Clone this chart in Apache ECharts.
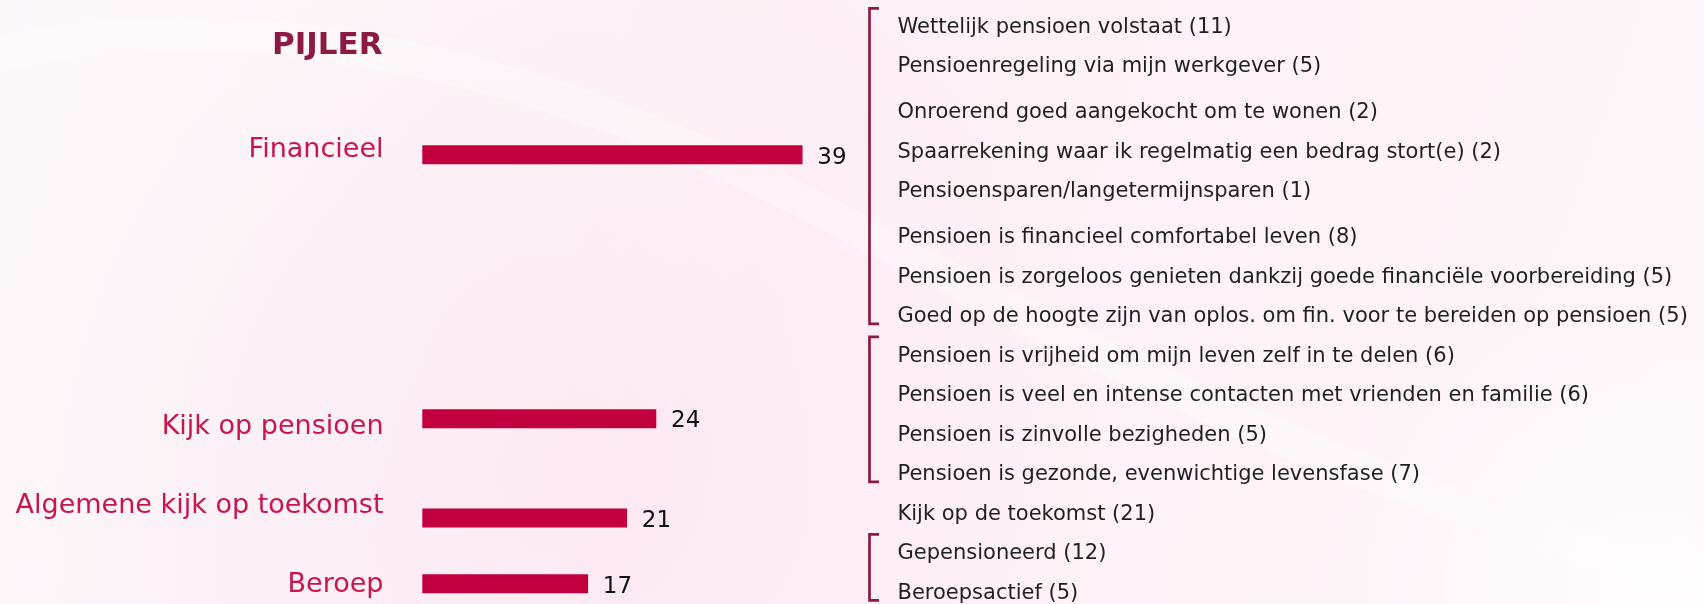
<!DOCTYPE html>
<html><head><meta charset="utf-8">
<script src="https://cdn.jsdelivr.net/npm/echarts@6/dist/echarts.min.js"></script>
<style>html,body{margin:0;padding:0;background:#fdf4f8}#chart{width:1704px;height:604px}</style>
</head>
<body>
<div id="chart"></div>
<script>
// ---- data ----
var titleText = 'PIJLER';
var pillars = ['Financieel', 'Kijk op pensioen', 'Algemene kijk op toekomst', 'Beroep'];
var pillarTotals = [39, 24, 21, 17];
// vertical slot of each pillar bar / label, in list-row units
var pillarBarRow = [3.26, 9.94, 12.45, 14.12];
var pillarLabelRow = [3.09, 10.09, 12.10, 14.09];

var detailLabels = [
  'Wettelijk pensioen volstaat',
  'Pensioenregeling via mijn werkgever',
  'Onroerend goed aangekocht om te wonen',
  'Spaarrekening waar ik regelmatig een bedrag stort(e)',
  'Pensioensparen/langetermijnsparen',
  'Pensioen is financieel comfortabel leven',
  'Pensioen is zorgeloos genieten dankzij goede financiële voorbereiding',
  'Goed op de hoogte zijn van oplos. om fin. voor te bereiden op pensioen',
  'Pensioen is vrijheid om mijn leven zelf in te delen',
  'Pensioen is veel en intense contacten met vrienden en familie',
  'Pensioen is zinvolle bezigheden',
  'Pensioen is gezonde, evenwichtige levensfase',
  'Kijk op de toekomst',
  'Gepensioneerd',
  'Beroepsactief'
];
var detailCounts = [11, 5, 2, 2, 1, 8, 5, 5, 6, 6, 5, 7, 21, 12, 5];
var detailPillar = [0, 0, 0, 0, 0, 0, 0, 0, 1, 1, 1, 1, 2, 3, 3];
var detailSubgroup = [0, 0, 1, 1, 1, 2, 2, 2, 3, 3, 3, 3, 4, 5, 5];

// ---- derived layout (row positions of the list) ----
var SUBGAP = 0.16;
var detailRow = [];
(function () {
  var extra = 0;
  for (var i = 0; i < detailLabels.length; i++) {
    if (i > 0 && detailPillar[i] === detailPillar[i - 1] && detailSubgroup[i] !== detailSubgroup[i - 1]) extra += SUBGAP;
    detailRow.push(i + extra);
  }
})();
var bracketData = [];
pillars.forEach(function (p, pi) {
  var rows = detailRow.filter(function (r, i) { return detailPillar[i] === pi; });
  if (rows.length > 1) bracketData.push([rows[0], rows[rows.length - 1]]);
});

// ---- style ----
var FONT = '"DejaVu Sans", "Noto Sans", sans-serif';
var BAR = '#c2003f';
var LABEL = '#c8154c';
var DARK = '#8c1b43';
var TXT = '#1f1f1f';
var CAPSHIFT = 0.068; // canvas 'middle' baseline vs cap-height centre, in em

var chart = echarts.init(document.getElementById('chart'), null, { renderer: 'canvas', width: 1704, height: 604 });

var swooshStyle = { fill: null, stroke: 'rgba(255,255,255,0.25)', lineWidth: 34, shadowBlur: 40, shadowColor: 'rgba(255,255,255,0.7)' };

var option = {
  animation: false,
  backgroundColor: 'transparent',
  graphic: [
    { type: 'rect', z: -10, silent: true, shape: { x: 0, y: 0, width: 1704, height: 604 },
      style: { fill: new echarts.graphic.LinearGradient(0, 0, 1, 1, [
        { offset: 0, color: '#fcf8fa' }, { offset: 0.45, color: '#fdf0f6' }, { offset: 1, color: '#fdf6f9' }]) } },
    { type: 'circle', z: -9, silent: true, shape: { cx: 560, cy: 470, r: 560 },
      style: { fill: new echarts.graphic.RadialGradient(0.5, 0.5, 0.5, [
        { offset: 0, color: 'rgba(250,218,235,0.35)' }, { offset: 1, color: 'rgba(250,218,235,0)' }]) } },
    { type: 'circle', z: -9, silent: true, shape: { cx: 1650, cy: 590, r: 300 },
      style: { fill: new echarts.graphic.RadialGradient(0.5, 0.5, 0.5, [
        { offset: 0, color: 'rgba(255,255,255,0.8)' }, { offset: 1, color: 'rgba(255,255,255,0)' }]) } },
    { type: 'bezierCurve', z: -8, silent: true,
      shape: { x1: -20, y1: 60, cpx1: 150, cpy1: 10, cpx2: 450, cpy2: 20, x2: 800, y2: 200 }, style: swooshStyle },
    { type: 'bezierCurve', z: -8, silent: true,
      shape: { x1: 800, y1: 200, cpx1: 1150, cpy1: 380, cpx2: 1300, cpy2: 470, x2: 1750, y2: 600 }, style: swooshStyle },
    { type: 'text', z: 10, x: 382.5, y: 44.2 + CAPSHIFT * 31,
      style: { text: titleText, font: 'bold 31px ' + FONT, fill: DARK, align: 'right', verticalAlign: 'middle', textAlign: 'right', textVerticalAlign: 'middle' } }
  ],
  grid: { left: 422.3, width: 390, top: 6.35, height: 596.45, containLabel: false },
  xAxis: { type: 'value', min: 0, max: 40, show: false },
  yAxis: { type: 'value', min: -0.5, max: 14.6, inverse: true, show: false },
  series: [
    {
      type: 'custom', name: 'pijler', coordinateSystem: 'cartesian2d',
      encode: { x: 0, y: 1 },
      data: pillars.map(function (p, i) { return [pillarTotals[i], pillarBarRow[i], pillarLabelRow[i], i]; }),
      renderItem: function (params, api) {
        var v = api.value(0), r = api.value(1), lr = api.value(2), idx = api.value(3);
        var s = api.coord([0, r]), e = api.coord([v, r]);
        var ly = api.coord([0, lr])[1];
        var h = 19;
        return { type: 'group', children: [
          { type: 'rect', shape: { x: s[0], y: s[1] - h / 2, width: e[0] - s[0], height: h }, style: { fill: BAR } },
          { type: 'text', x: e[0] + 14.7, y: s[1] + 1.2 + CAPSHIFT * 23,
            style: { text: String(v), font: '23px ' + FONT, fill: '#111', align: 'left', verticalAlign: 'middle', textAlign: 'left', textVerticalAlign: 'middle' } },
          { type: 'text', x: s[0] - 38.8, y: ly + CAPSHIFT * 27,
            style: { text: pillars[idx], font: '27px ' + FONT, fill: LABEL, align: 'right', verticalAlign: 'middle', textAlign: 'right', textVerticalAlign: 'middle' } }
        ] };
      }
    },
    {
      type: 'custom', name: 'detail', coordinateSystem: 'cartesian2d',
      encode: { x: 0, y: 1 },
      data: detailRow.map(function (r, i) { return [detailCounts[i], r, i]; }),
      renderItem: function (params, api) {
        var c = api.value(0), r = api.value(1), i = api.value(2);
        var y = api.coord([0, r])[1];
        return { type: 'text', x: 897.5, y: y + CAPSHIFT * 21,
          style: { text: detailLabels[i] + ' (' + c + ')', font: '21px ' + FONT, fill: TXT, align: 'left', verticalAlign: 'middle', textAlign: 'left', textVerticalAlign: 'middle' } };
      }
    },
    {
      type: 'custom', name: 'bracket', coordinateSystem: 'cartesian2d',
      encode: { y: [0, 1] },
      data: bracketData,
      renderItem: function (params, api) {
        var t = api.coord([0, api.value(0) - 0.45])[1];
        var b = api.coord([0, api.value(1) + 0.22])[1];
        var x0 = 869.5, x1 = 879;
        return { type: 'polyline', shape: { points: [[x1, t], [x0, t], [x0, b], [x1, b]] },
          style: { stroke: DARK, lineWidth: 2.7, fill: null, lineJoin: 'miter' } };
      }
    }
  ]
};
chart.setOption(option);
</script>
</body></html>
